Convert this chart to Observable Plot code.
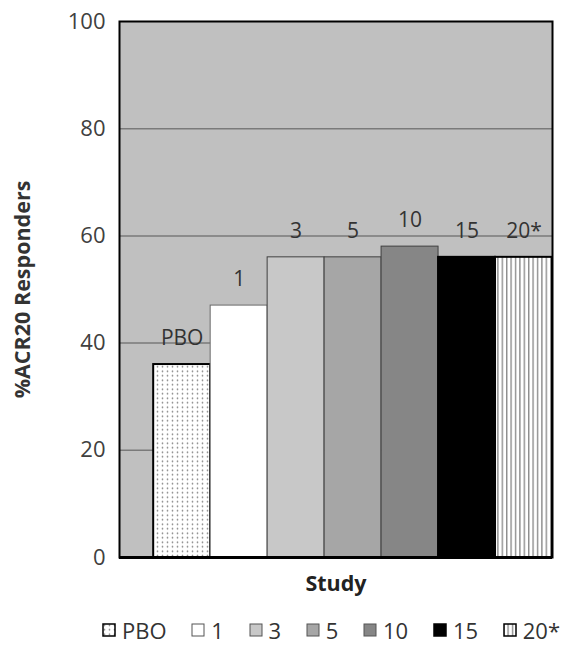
<!DOCTYPE html>
<html>
<head>
<meta charset="utf-8">
<script src="https://cdn.jsdelivr.net/npm/d3@7"></script>
<script src="https://cdn.jsdelivr.net/npm/@observablehq/plot@0.6"></script>
<style>
  body { margin: 0; background: white; font-family: "Open Sans", sans-serif; }
  #legend { display: flex; justify-content: space-between; align-items: center;
    box-sizing: border-box; width: 564px; padding-left: 102px; padding-right: 4px;
    height: 34px; margin-top: 11px; font-size: 22px; line-height: 32px; color: #333; }
  .item { display: flex; align-items: center; height: 32px; }
  .item svg { margin-right: 6px; }
</style>
</head>
<body>
<div id="chart"></div>
<div id="legend"></div>
<script>
const categories = ["PBO", "1", "3", "5", "10", "15", "20*"];
const values = [36, 47, 56, 56, 58, 56, 56];
const fills = ["url(#dots)", "#ffffff", "#c8c8c8", "#a6a6a6", "#868686", "#000000", "url(#stripes)"];
const strokes = ["#000000", "#6a6a6a", "#404040", "#404040", "#404040", "#000000", "#000000"];
const yTicks = [0, 20, 40, 60, 80, 100];
const gridValues = [20, 40, 60, 80];
const yLabel = "%ACR20 Responders";
const xLabel = "Study";

const data = categories.map((c, i) => ({cat: c, value: values[i], fill: fills[i], stroke: strokes[i]}));

const defsMarkup = `
  <pattern id="dots" patternUnits="userSpaceOnUse" width="5" height="4.5">
    <rect width="5" height="4.5" fill="#ffffff"/>
    <circle cx="2.5" cy="2.2" r="0.85" fill="#808080"/>
  </pattern>
  <pattern id="stripes" patternUnits="userSpaceOnUse" width="4.4" height="10">
    <rect width="4.4" height="10" fill="#ffffff"/>
    <rect x="0" width="1.4" height="10" fill="#8c8c8c"/>
  </pattern>`;

const plot = Plot.plot({
  width: 564,
  height: 602,
  marginLeft: 119,
  marginRight: 12,
  marginTop: 21,
  marginBottom: 45,
  style: {background: "white", fontFamily: "'Open Sans', sans-serif", fontSize: "22px", color: "#404040"},
  x: {domain: categories, paddingInner: 0, paddingOuter: 0.3, align: 1, round: false, axis: null},
  y: {domain: [0, 100], ticks: yTicks, tickSize: 0, tickPadding: 14, label: null},
  color: {type: "identity"},
  marks: [
    Plot.frame({fill: "#c0c0c0"}),
    Plot.ruleY(gridValues, {stroke: "#7a7a7a", strokeWidth: 1.5}),
    Plot.barY(data, {x: "cat", y: "value", fill: "fill", stroke: "stroke", strokeWidth: d => d.stroke === "#000000" ? 2 : 1}),
    Plot.text(data, {x: "cat", y: "value", text: "cat", dy: -26, fontSize: 21, fill: "#333"}),
    Plot.ruleY([0], {stroke: "#000", strokeWidth: 3}),
    Plot.frame({stroke: "#000", strokeWidth: 2}),
    Plot.text([yLabel], {frameAnchor: "left", textAnchor: "middle", dx: -96, rotate: -90, fontWeight: "bold", fontSize: 21.5, fill: "#333"}),
    Plot.text([xLabel], {frameAnchor: "bottom", dy: 33, fontWeight: "bold", fontSize: 21.5, fill: "#222"})
  ]
});
d3.select(plot).insert("defs", ":first-child").html(defsMarkup);
document.getElementById("chart").appendChild(plot);

// legend
const legend = d3.select("#legend");
data.forEach(d => {
  const item = legend.append("div").attr("class", "item");
  const s = item.append("svg").attr("width", 14).attr("height", 14);
  s.append("defs").html(defsMarkup.replaceAll('id="dots"', 'id="dots-l' + d.cat + '"').replaceAll('id="stripes"', 'id="stripes-l' + d.cat + '"'));
  const f = d.fill.startsWith("url") ? d.fill.replace(")", "-l" + d.cat + ")") : d.fill;
  s.append("rect").attr("x", 1).attr("y", 1).attr("width", 12).attr("height", 12)
    .attr("fill", f).attr("stroke", d.stroke === "#000000" ? "#000" : "#555").attr("stroke-width", d.stroke === "#000000" ? 1.5 : 1);
  item.append("span").text(d.cat);
});
</script>
</body>
</html>
